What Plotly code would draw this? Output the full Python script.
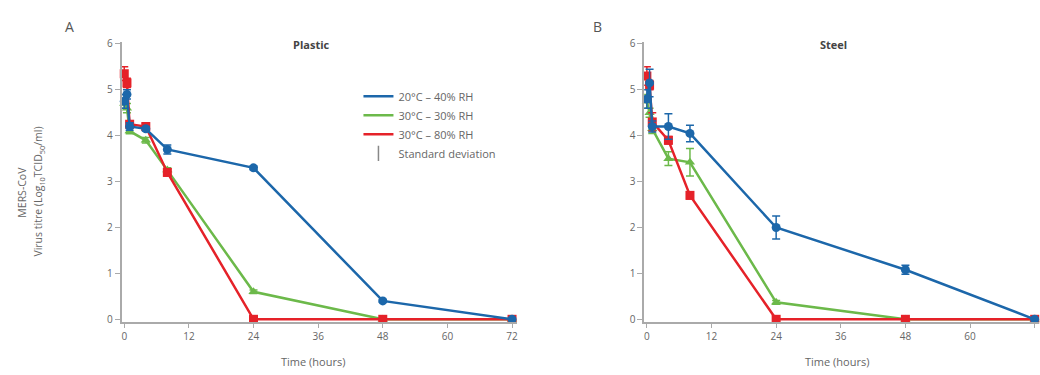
import plotly.graph_objects as go

# sampling times (hours)
hours = [0, 0.5, 1, 4, 8, 24, 48, 72]

# plastic (panel A), log10 TCID50/ml
plastic_20_40 = [4.75, 4.9, 4.2, 4.15, 3.7, 3.3, 0.4, 0]
plastic_20_40_sd = [0.15, 0.1, 0.08, 0.05, 0.1, 0.04, 0.03, 0]
plastic_30_30 = [4.7, 4.6, 4.1, 3.9, 3.25, 0.6, 0, 0]
plastic_30_30_sd = [0.1, 0.1, 0.06, 0.06, 0.05, 0.04, 0, 0]
plastic_30_80 = [5.35, 5.15, 4.25, 4.2, 3.2, 0, 0, 0]
plastic_30_80_sd = [0.15, 0.1, 0.05, 0.06, 0.08, 0, 0, 0]

# steel (panel B)
steel_20_40 = [4.8, 5.15, 4.2, 4.2, 4.05, 2.0, 1.08, 0]
steel_20_40_sd = [0.2, 0.3, 0.12, 0.28, 0.18, 0.25, 0.1, 0]
steel_30_30 = [4.75, 4.5, 4.15, 3.5, 3.42, 0.37, 0, 0]
steel_30_30_sd = [0.15, 0.1, 0.1, 0.15, 0.3, 0.04, 0, 0]
steel_30_80 = [5.3, 5.1, 4.3, 3.9, 2.7, 0, 0, 0]
steel_30_80_sd = [0.2, 0.1, 0.2, 0.08, 0.08, 0, 0, 0]

labels = ["20°C – 40% RH", "30°C – 30% RH", "30°C – 80% RH"]
colors = ["#1c67aa", "#6cb94a", "#e52229"]
symbols = ["circle", "triangle-up", "square"]
x_ticks = [0, 12, 24, 36, 48, 60, 72]

font = "Open Sans"
grey = "#666666"

fig = go.Figure()

panels = [
    ("x", "y", [plastic_20_40, plastic_30_30, plastic_30_80],
     [plastic_20_40_sd, plastic_30_30_sd, plastic_30_80_sd]),
    ("x2", "y2", [steel_20_40, steel_30_30, steel_30_80],
     [steel_20_40_sd, steel_30_30_sd, steel_30_80_sd]),
]

for xa, ya, series, sds in panels:
    # green first, then red, blue on top
    for i in [1, 2, 0]:
        fig.add_trace(go.Scatter(
            x=hours, y=series[i], xaxis=xa, yaxis=ya,
            mode="lines+markers",
            line=dict(color=colors[i], width=2.5),
            marker=dict(symbol=symbols[i], color=colors[i], size=9),
            error_y=dict(type="data", array=sds[i], color=colors[i],
                         thickness=1.5, width=4),
            cliponaxis=False, showlegend=False,
        ))

# legend entries (lines only)
for i in range(3):
    fig.add_trace(go.Scatter(
        x=[None], y=[None], mode="lines", name=labels[i],
        line=dict(color=colors[i], width=2.5),
    ))
fig.add_trace(go.Scatter(
    x=[None], y=[None], mode="markers", name="Standard deviation",
    marker=dict(symbol="line-ns-open", color="#888888", size=11,
                line=dict(width=1.5, color="#888888")),
))

axis_common = dict(
    showgrid=False, zeroline=False, showline=True, linecolor="#aaaaaa",
    linewidth=1.5, ticks="outside", tickcolor="#aaaaaa", ticklen=5,
    tickfont=dict(family=font, size=10, color=grey),
)

fig.update_layout(
    width=1040, height=375,
    margin=dict(l=0, r=0, t=0, b=0),
    paper_bgcolor="white", plot_bgcolor="white",
    font=dict(family=font, color=grey),
    xaxis=dict(domain=[0.117, 0.498], range=[-0.5, 73],
               tickvals=x_ticks, anchor="y", **axis_common),
    yaxis=dict(domain=[0.135, 0.9], range=[-0.05, 6.05],
               tickvals=[0, 1, 2, 3, 4, 5, 6], anchor="x", **axis_common),
    xaxis2=dict(domain=[0.62, 1.0], range=[-0.5, 72.8],
                tickvals=x_ticks, anchor="y2", **axis_common),
    yaxis2=dict(domain=[0.135, 0.9], range=[-0.05, 6.05],
                tickvals=[0, 1, 2, 3, 4, 5, 6], anchor="x2", **axis_common),
    legend=dict(x=0.345, y=0.79, xanchor="left", yanchor="top",
                font=dict(family=font, size=11, color=grey),
                bgcolor="rgba(0,0,0,0)", itemwidth=30, tracegroupgap=0),
)

ann = [
    dict(text="A", x=70 / 1040, y=0.94, font=dict(size=14, color="#555555")),
    dict(text="B", x=598 / 1040, y=0.94, font=dict(size=14, color="#555555")),
    dict(text="<b>Plastic</b>", x=312 / 1040, y=0.893, font=dict(size=11, color="#444444")),
    dict(text="<b>Steel</b>", x=834 / 1040, y=0.893, font=dict(size=11, color="#444444")),
    dict(text="Time (hours)", x=313 / 1040, y=0.027, font=dict(size=11, color=grey)),
    dict(text="Time (hours)", x=838 / 1040, y=0.027, font=dict(size=11, color=grey)),
    dict(text="MERS-CoV", x=22 / 1040, y=0.49, textangle=-90,
         font=dict(size=10.5, color=grey)),
    dict(text="Virus titre (Log<sub>10</sub>TCID<sub>50</sub>/ml)", x=39 / 1040, y=0.49,
         textangle=-90, font=dict(size=10.5, color=grey)),
]
for a in ann:
    fig.add_annotation(xref="paper", yref="paper", showarrow=False,
                       xanchor="center", yanchor="middle", **a)

fig.write_html("out.html", config={"displayModeBar": False},
               post_script="document.body.style.margin='0';")
